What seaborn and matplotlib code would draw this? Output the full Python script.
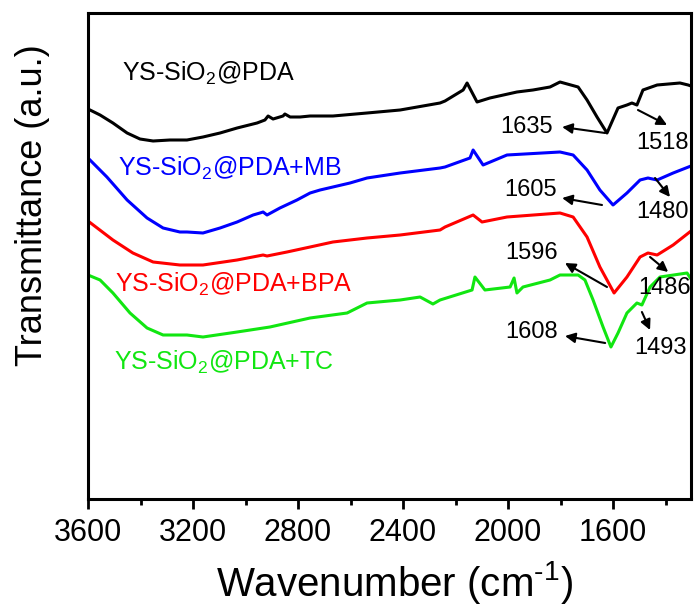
import numpy as np
import pandas as pd
import matplotlib
matplotlib.use("Agg")
import matplotlib.pyplot as plt
import seaborn as sns

# ---------------- data ----------------
wn_black = [3600, 3554, 3505, 3451, 3402, 3352, 3288, 3250, 3223, 3162, 3097, 3032, 2956, 2926,
            2914, 2895, 2857, 2850, 2830, 2792, 2754, 2667, 2537, 2411, 2259, 2240, 2171, 2156,
            2118, 2069, 1966, 1905, 1840, 1802, 1733, 1699, 1661, 1623, 1581, 1547, 1528, 1509,
            1486, 1432, 1345, 1314, 1303]
t_black = [78.0, 76.8, 75.2, 73.2, 72.0, 71.6, 71.8, 71.8, 71.8, 72.4, 73.2, 74.2, 75.2, 75.8,
           76.6, 76.0, 76.6, 77.0, 76.4, 76.4, 76.6, 76.6, 77.2, 77.8, 79.2, 79.6, 81.8, 83.2,
           79.4, 80.2, 81.4, 81.8, 82.4, 83.4, 82.4, 79.8, 76.4, 73.2, 78.2, 78.8, 79.2, 78.8,
           81.8, 82.8, 83.2, 82.8, 82.6]

wn_blue = [3600, 3528, 3451, 3375, 3314, 3250, 3223, 3162, 3097, 3032, 2971, 2945, 2933, 2918,
           2869, 2804, 2754, 2716, 2602, 2537, 2411, 2259, 2240, 2145, 2133, 2095, 2004, 1802,
           1752, 1699, 1650, 1600, 1547, 1497, 1467, 1432, 1371, 1303]
t_blue = [68.2, 64.4, 59.8, 56.2, 54.2, 53.4, 53.4, 53.2, 54.2, 55.4, 56.8, 57.2, 57.4, 56.8,
          58.2, 59.8, 61.2, 61.8, 63.2, 64.2, 65.2, 66.2, 66.4, 68.2, 69.8, 66.8, 68.8, 69.4,
          68.8, 65.8, 61.8, 58.8, 61.2, 63.8, 64.2, 63.8, 65.2, 66.6]

wn_red = [3600, 3505, 3429, 3352, 3250, 3162, 3032, 2933, 2918, 2842, 2754, 2667, 2537, 2411,
          2259, 2240, 2133, 2099, 2004, 1802, 1752, 1699, 1650, 1596, 1547, 1497, 1467, 1432,
          1371, 1303]
t_red = [55.6, 51.8, 49.2, 47.4, 46.8, 46.8, 47.8, 48.8, 48.6, 49.4, 50.4, 51.4, 52.2, 52.8,
         53.8, 54.4, 56.8, 55.4, 56.4, 57.2, 56.4, 52.4, 46.4, 41.2, 44.4, 48.4, 49.2, 48.8,
         50.8, 53.6]

wn_green = [3600, 3554, 3505, 3440, 3375, 3314, 3250, 3223, 3162, 3032, 2907, 2754, 2613, 2537,
            2411, 2335, 2286, 2259, 2137, 2126, 2088, 1992, 1977, 1966, 1943, 1840, 1802, 1733,
            1707, 1676, 1638, 1608, 1581, 1547, 1509, 1490, 1459, 1421, 1318, 1303]
t_green = [44.8, 43.8, 41.2, 37.2, 34.2, 32.8, 32.8, 32.8, 32.4, 33.4, 34.4, 36.2, 37.2, 39.2,
           39.8, 40.4, 39.0, 39.8, 41.8, 44.4, 41.8, 42.4, 44.2, 41.2, 42.4, 43.8, 44.8, 44.8,
           43.8, 39.8, 34.4, 30.4, 33.2, 37.2, 39.2, 38.8, 42.4, 44.4, 45.2, 44.0]

series_names = ["YS-SiO$_2$@PDA", "YS-SiO$_2$@PDA+MB", "YS-SiO$_2$@PDA+BPA", "YS-SiO$_2$@PDA+TC"]
series_colors = ["#000000", "#0000ff", "#ff0000", "#11e611"]
label_pos = [(3470, 85.2), (3486, 66.2), (3497, 43.0), (3501, 27.4)]

peak_labels = ["1635", "1518", "1605", "1480", "1596", "1486", "1608", "1493"]
peak_text_pos = [(1931, 74.4), (1413, 71.2), (1916, 61.8), (1413, 57.4),
                 (1909, 49.2), (1402, 42.2), (1909, 33.4), (1421, 30.2)]
arrow_tail = [(1630, 73.2), (1505, 77.8), (1642, 58.8), (1440, 64.2),
              (1623, 42.4), (1459, 48.4), (1630, 31.2), (1490, 37.4)]
arrow_head = [(1794, 74.4), (1394, 74.8), (1794, 60.2), (1383, 60.4),
              (1783, 47.2), (1390, 45.4), (1783, 32.6), (1459, 33.8)]

x_ticks = [3600, 3200, 2800, 2400, 2000, 1600]
x_minor = [3400, 3000, 2600, 2200, 1800, 1400]

# ---------------- style ----------------
sns.set_style("ticks")
plt.rcParams["font.family"] = ["Liberation Sans", "DejaVu Sans"]
plt.rcParams["mathtext.fontset"] = "custom"
plt.rcParams["mathtext.rm"] = "Liberation Sans"
plt.rcParams["mathtext.it"] = "Liberation Sans:italic"
plt.rcParams["mathtext.bf"] = "Liberation Sans:bold"
plt.rcParams["text.color"] = "black"
plt.rcParams["axes.labelcolor"] = "black"
plt.rcParams["xtick.color"] = "black"
plt.rcParams["xtick.labelcolor"] = "black"

fig = plt.figure(figsize=(6.96, 6.10), dpi=100)
ax = fig.add_axes([88 / 696, 1 - 499 / 610, (691 - 88) / 696, (499 - 13) / 610])

frames = []
for name, wn, t in zip(series_names, [wn_black, wn_blue, wn_red, wn_green],
                       [t_black, t_blue, t_red, t_green]):
    frames.append(pd.DataFrame({"wn": wn, "t": t, "series": name}))
df = pd.concat(frames, ignore_index=True)

sns.lineplot(data=df, x="wn", y="t", hue="series", palette=dict(zip(series_names, series_colors)),
             estimator=None, sort=False, lw=2.2, legend=False, ax=ax)

ax.set_xlim(3600, 1303)
ax.set_ylim(0, 97.2)
ax.set_xticks(x_ticks)
ax.set_xticks(x_minor, minor=True)
ax.set_yticks([])
ax.tick_params(axis="x", which="major", direction="out", length=7, width=2,
               labelsize=22, pad=7, colors="black")
ax.tick_params(axis="x", which="minor", direction="out", length=4, width=2, colors="black")
for s in ax.spines.values():
    s.set_linewidth(2.2)
    s.set_color("black")

ax.set_xlabel("Wavenumber (cm$^{\u2010\\mathdefault{1}}$)", fontsize=29, va="center")
ax.xaxis.set_label_coords((395 - 88) / 603, -84 / 486)
ax.set_ylabel("Transmittance (a.u.)", fontsize=26, va="center", ha="center")
ax.yaxis.set_label_coords((32 - 88) / 603, (499 - 205) / 486)

for name, col, (px, py) in zip(series_names, series_colors, label_pos):
    ax.text(px, py, name, color=col, fontsize=18, ha="left", va="center")

for lab, (tx, ty), tail, head in zip(peak_labels, peak_text_pos, arrow_tail, arrow_head):
    ax.text(tx, ty, lab, fontsize=17, ha="center", va="center", color="black")
    ax.annotate("", xy=head, xytext=tail,
                arrowprops=dict(arrowstyle="-|>", color="black", lw=1.5,
                                mutation_scale=15, shrinkA=0, shrinkB=0))

fig.savefig("out.png", dpi=100, facecolor="white")
